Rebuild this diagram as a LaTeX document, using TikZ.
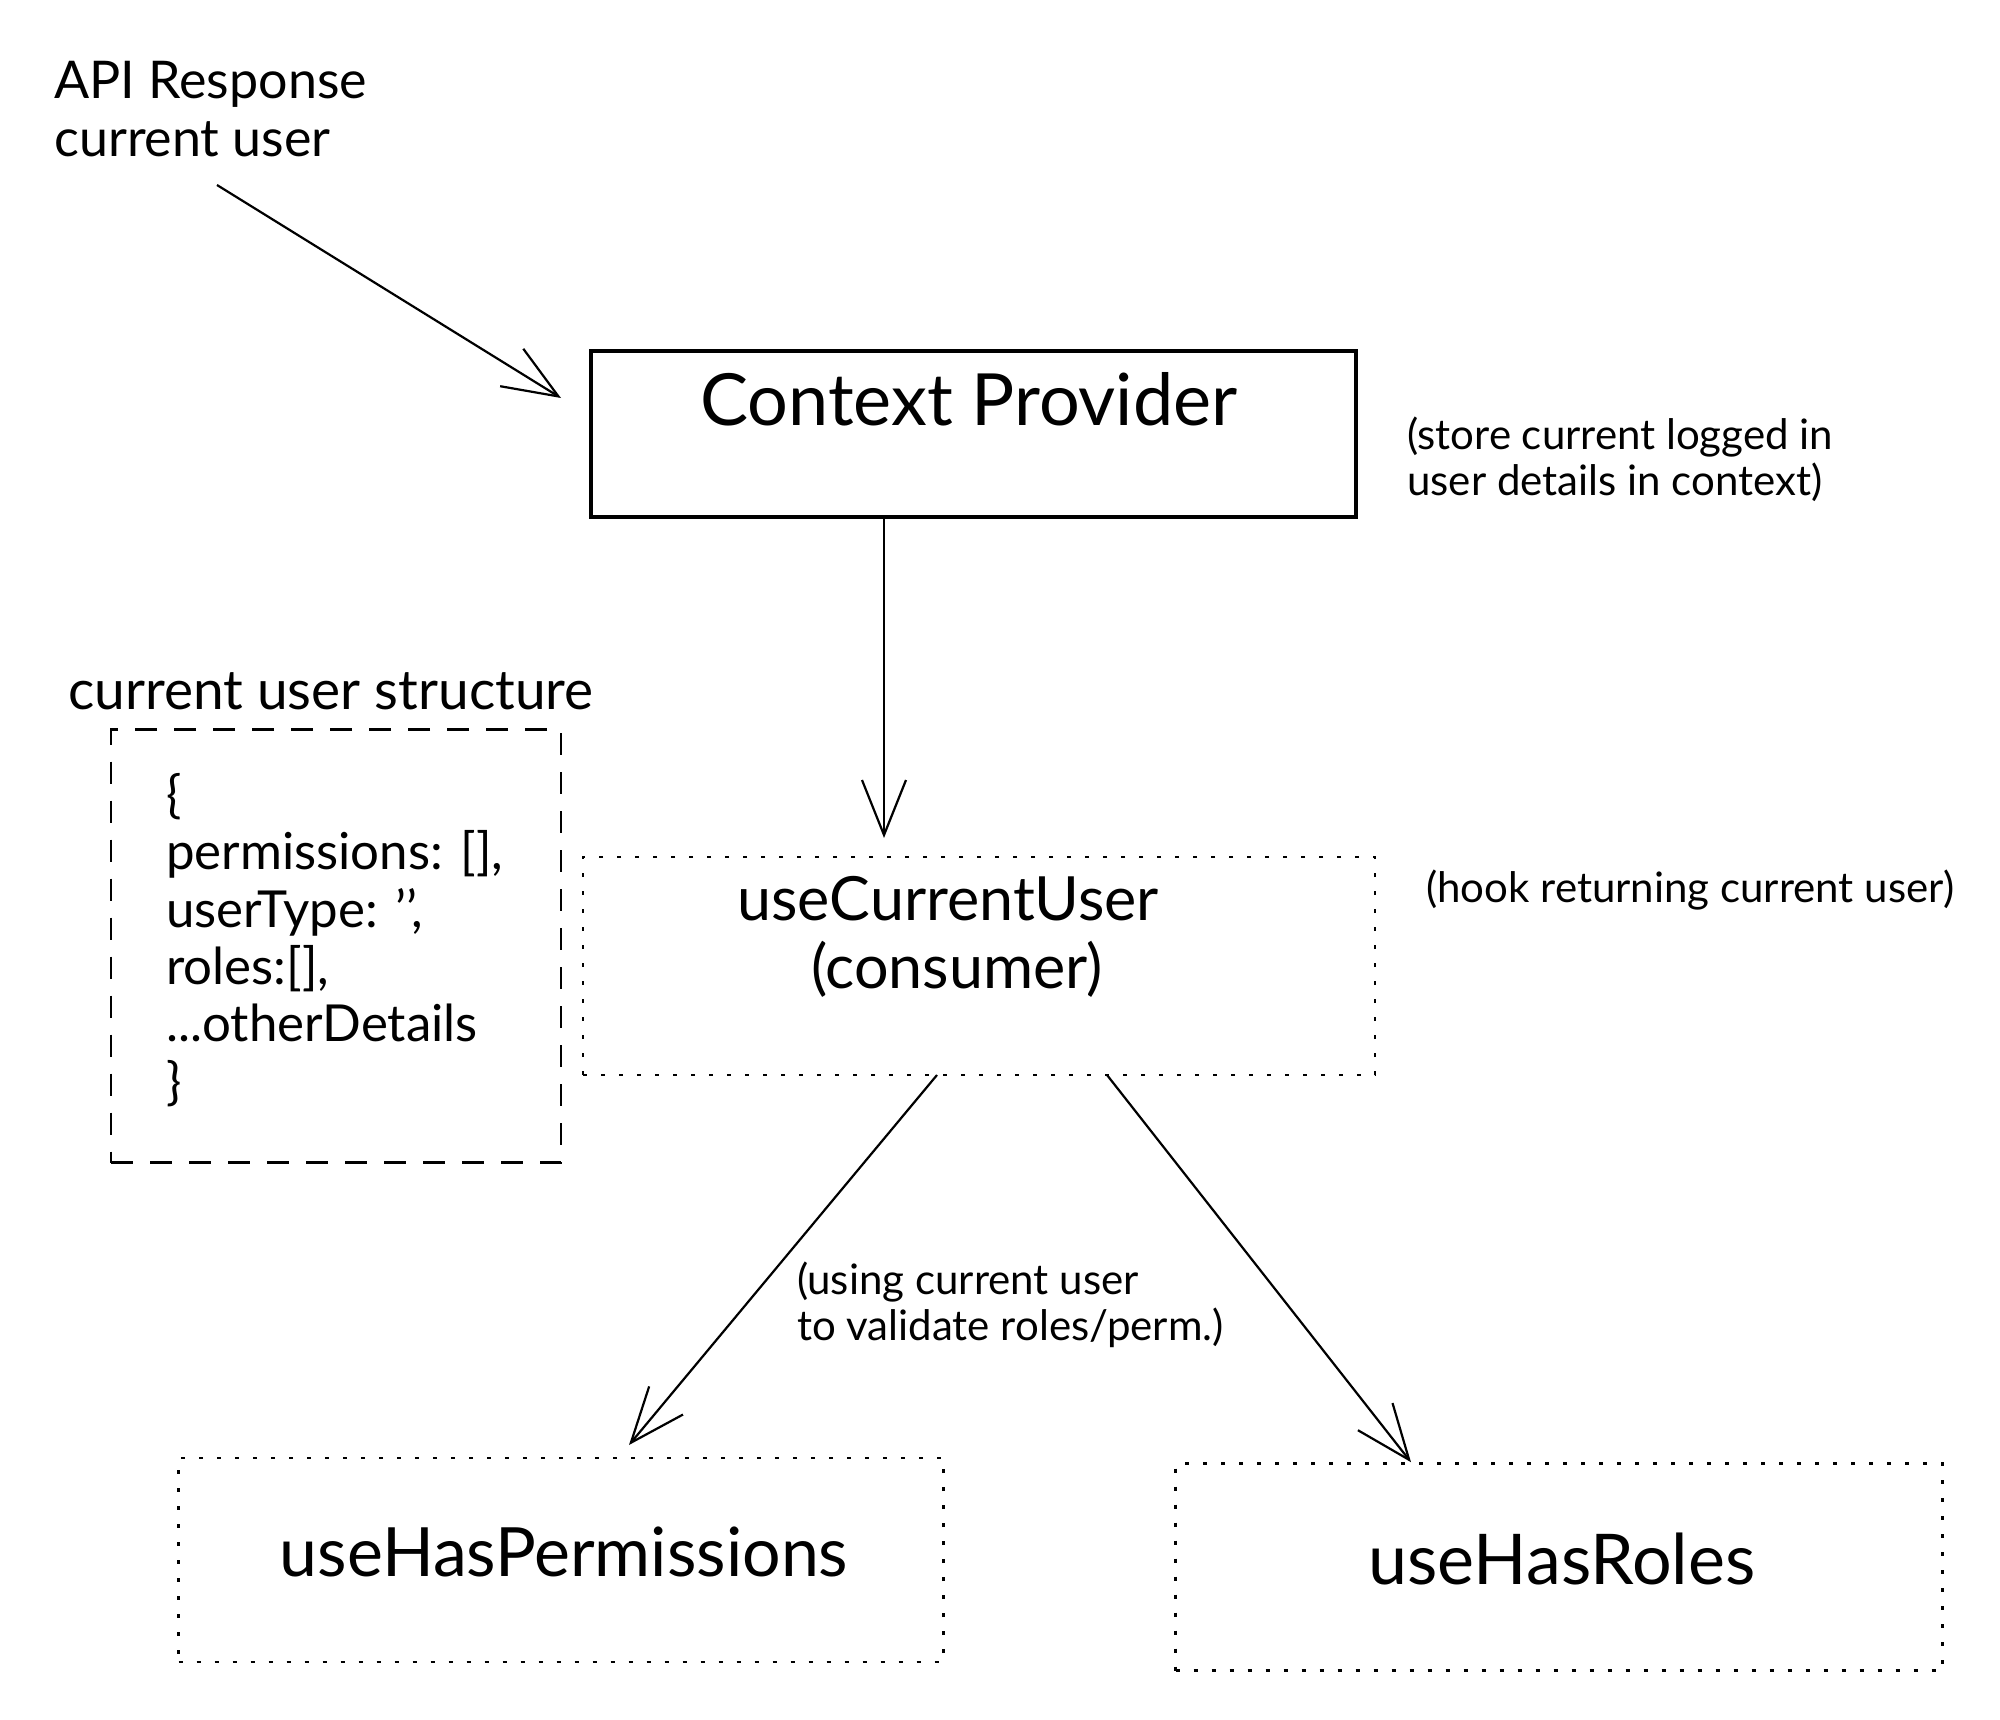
\documentclass[tikz,border=0pt]{standalone}
\usepackage{fontspec}
\setmainfont{Lato}
\usetikzlibrary{arrows.meta}
\begin{document}
\begin{tikzpicture}[x=1pt,y=-1pt,
  conn/.style={line width=2.2pt, -{Straight Barb[length=55pt,width=44pt,line width=2.2pt]}},
  cpbox/.style={draw, line width=4pt, rectangle, inner sep=0pt},
  dashbox/.style={draw, line width=2.6pt, rectangle, inner sep=0pt, dash pattern=on 22pt off 17pt},
  dotbox/.style={draw, line width=2.6pt, rectangle, inner sep=0pt, dash pattern=on 4pt off 14pt},
  note/.style={font=\fontsize{42}{46}\selectfont, align=left, inner sep=0pt},
  lbl/.style={font=\fontsize{52}{58}\selectfont, align=left, inner sep=0pt},
  big/.style={font=\fontsize{72}{80}\selectfont, inner sep=0pt},
  mid/.style={font=\fontsize{61}{70}\selectfont, inner sep=0pt},
  code/.style={font=\fontsize{51}{57.4}\selectfont, align=left, inner sep=0pt}
]
\useasboundingbox[fill=white] (0,0) rectangle (2000,1720);

% texts and boxes
\node[lbl, anchor=west] (api) at (54,109) {API Response\\current user};

\node[cpbox, minimum width=765pt, minimum height=166pt] (cp) at (973,434) {};
\node[big] (cpt) at (969,399) {Context Provider};
\node[note, anchor=west] (cpn) at (1407,459) {(store current logged in\\user details in context)};

\node[lbl, anchor=west, font=\fontsize{55}{60}\selectfont] (cust) at (68,691) {current user structure};
\node[dashbox, minimum width=450pt, minimum height=433pt] (cus) at (336,946) {};
\node[code, anchor=west] (cusc) at (166,940) {\{\\permissions: [],\\userType: '{}',\\roles:[],\\...otherDetails\\\}};

\node[dotbox, minimum width=792pt, minimum height=218pt] (ucu) at (979,966) {};
\node[mid] (ucut1) at (948,899) {useCurrentUser};
\node[mid] (ucut2) at (957,969) {(consumer)};
\node[note, anchor=west] (ucun) at (1426,890) {(hook returning current user)};

\node[note, anchor=west] (valn) at (797,1305) {(using current user\\to validate roles/perm.)};

\node[dotbox, minimum width=765pt, minimum height=204pt] (uhp) at (561,1560) {};
\node[big, font=\fontsize{68}{76}\selectfont] (uhpt) at (564,1552) {useHasPermissions};

\node[dotbox, minimum width=767pt, minimum height=207pt] (uhr) at (1559,1567) {};
\node[big, font=\fontsize{70}{76}\selectfont] (uhrt) at (1562,1559) {useHasRoles};

% connectors
\coordinate (a1s) at (217,185);
\coordinate (a1e) at (561,398);
\draw[conn] (a1s) -- (a1e);

\coordinate (a2e) at (884,838);
\draw[conn] (cp.south -| a2e) -- (a2e);

\coordinate (a3s) at (937,1075);
\coordinate (a3e) at (629,1445);
\draw[conn] (a3s) -- (a3e);

\coordinate (a4s) at (1107,1075);
\draw[conn] (a4s) -- (uhr.north -| 1411,0);
\end{tikzpicture}
\end{document}
